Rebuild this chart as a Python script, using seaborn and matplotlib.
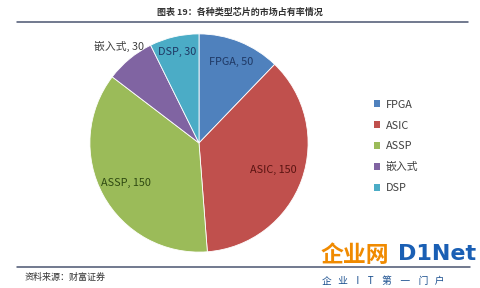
import matplotlib
matplotlib.use("Agg")
import matplotlib.pyplot as plt
import seaborn as sns
import numpy as np
from matplotlib.patches import Patch
from matplotlib.lines import Line2D

categories = ["FPGA", "ASIC", "ASSP", "嵌入式", "DSP"]
values = [50, 150, 150, 30, 30]
colors = ["#4F81BD", "#C0504D", "#9BBB59", "#8064A2", "#4BACC6"]
label_colors = ["#1F3864", "#5A1412", "#2F4A12", "#404040", "#1F3864"]
label_radius = [0.80, 0.72, 0.76, 1.15, 0.86]

title = "图表 19：各种类型芯片的市场占有率情况"
source = "资料来源：财富证券"

sns.set_theme(style="white")
plt.rcParams["font.family"] = ["Noto Sans CJK SC", "DejaVu Sans"]

fig = plt.figure(figsize=(4.8, 2.88), dpi=100)
ax = fig.add_axes([79/480, 25/288, 240/480, 240/288])
palette = sns.color_palette(colors)
wedges, _ = ax.pie(values, colors=palette, startangle=90, counterclock=False,
                   radius=1.0, wedgeprops=dict(linewidth=0.6, edgecolor="white"))
ax.set_xlim(-1.1, 1.1)
ax.set_ylim(-1.1, 1.1)
ax.set_aspect("equal")
ax.axis("off")

for w, cat, val, lc, r in zip(wedges, categories, values, label_colors, label_radius):
    mid = np.deg2rad((w.theta1 + w.theta2) / 2)
    ax.text(r * np.cos(mid), r * np.sin(mid), f"{cat}, {val}", ha="center", va="center",
            fontsize=7.8, color=lc)

handles = [Patch(facecolor=c, edgecolor="none") for c in colors]
fig.legend(handles, categories, loc="upper left", bbox_to_anchor=(364/480, 1 - 90/288),
           frameon=False, fontsize=7.8, handlelength=0.6, handleheight=0.6,
           handletextpad=0.5, labelspacing=1.0, labelcolor="#404040")

fig.text(0.5, 1 - 12/288, title, ha="center", va="center", fontsize=6.5,
         fontweight="bold", color="#333333")
fig.add_artist(Line2D([17/480, 468/480], [1 - 22/288] * 2, color="#4A5570", lw=1.1))
fig.add_artist(Line2D([17/480, 470/480], [1 - 267/288] * 2, color="#4A5570", lw=1.1))
fig.text(25/480, 1 - 277/288, source, ha="left", va="center", fontsize=6.5,
         style="italic", color="#333333")

# watermark
fig.text(321/480, 1 - 255/288, "企业网", ha="left", va="center", fontsize=16.5,
         fontweight="bold", color="#F08A00")
fig.text(398/480, 1 - 254/288, "D1Net", ha="left", va="center", fontsize=16,
         fontweight="bold", color="#1A5FB4", family=["DejaVu Sans"])
fig.text(322/480, 1 - 281/288, "企   业    I    T    第    一    门   户", ha="left",
         va="center", fontsize=7, color="#1A4F8F")

fig.savefig("out.png", dpi=100)
